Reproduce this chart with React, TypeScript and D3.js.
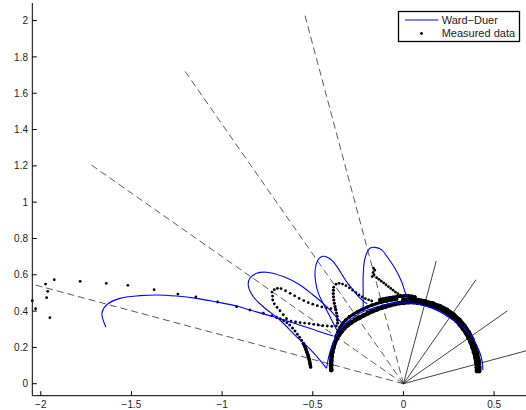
import React from 'react';
import * as d3 from 'd3';

// ---------- data ----------
const xTicks = [-2, -1.5, -1, -0.5, 0, 0.5];
const yTicks = [0, 0.2, 0.4, 0.6, 0.8, 1, 1.2, 1.4, 1.6, 1.8, 2];

// dashed rays from origin (end points)
const dashedRays: number[][] = [[-0.543, 2.028], [-1.204, 1.72], [-1.72, 1.204], [-2.028, 0.543]];
// solid rays from origin (end points)
const solidRays: number[][] = [[0.181, 0.676], [0.401, 0.573], [0.573, 0.401], [0.676, 0.181]];

// Ward-Duer model curves
const wardA: number[][] = [[-1.641, 0.311], [-1.663, 0.388], [-1.637, 0.434], [-1.564, 0.47], [-1.453, 0.485], [-1.361, 0.489], [-1.251, 0.483], [-1.141, 0.47], [-1.03, 0.45], [-0.92, 0.428], [-0.846, 0.406], [-0.718, 0.369], [-0.589, 0.329], [-0.479, 0.292], [-0.387, 0.263]];
const wardArc: number[][] = [[0.438, 0.075], [0.436, 0.11], [0.428, 0.15], [0.414, 0.19], [0.394, 0.23], [0.367, 0.268], [0.333, 0.305], [0.293, 0.338], [0.248, 0.367], [0.2, 0.396], [0.15, 0.418], [0.1, 0.434], [0.05, 0.443], [0.0, 0.446], [-0.05, 0.444], [-0.1, 0.436], [-0.15, 0.422], [-0.2, 0.405], [-0.25, 0.383], [-0.29, 0.355], [-0.325, 0.325], [-0.35, 0.296], [-0.372, 0.26], [-0.39, 0.22], [-0.405, 0.175], [-0.416, 0.13], [-0.424, 0.085]];
const wardB: number[][] = [[-0.424, 0.085], [-0.461, 0.13], [-0.515, 0.19], [-0.589, 0.258], [-0.681, 0.351], [-0.773, 0.424], [-0.828, 0.479], [-0.856, 0.544], [-0.847, 0.581], [-0.81, 0.608], [-0.755, 0.614], [-0.663, 0.59], [-0.571, 0.544], [-0.5, 0.49], [-0.44, 0.44], [-0.39, 0.39], [-0.355, 0.35], [-0.33, 0.325]];
const wardC: number[][] = [[-0.368, 0.296], [-0.387, 0.333], [-0.405, 0.369], [-0.424, 0.406], [-0.447, 0.45], [-0.47, 0.5], [-0.484, 0.56], [-0.488, 0.61], [-0.482, 0.655], [-0.465, 0.69], [-0.445, 0.702], [-0.42, 0.697], [-0.39, 0.675], [-0.36, 0.635], [-0.332, 0.59], [-0.305, 0.55], [-0.277, 0.516], [-0.25, 0.482], [-0.225, 0.458], [-0.2, 0.44]];
const wardD: number[][] = [[-0.222, 0.4], [-0.222, 0.5], [-0.222, 0.598], [-0.212, 0.691], [-0.185, 0.746], [-0.157, 0.751], [-0.12, 0.737], [-0.084, 0.691], [-0.047, 0.636], [-0.01, 0.562], [0.008, 0.507], [0.03, 0.452]];

// Measured data
const measFar: number[][] = [[-2.047, 0.457], [-2.029, 0.413], [-1.974, 0.549], [-1.962, 0.509], [-1.968, 0.474], [-1.926, 0.573], [-1.95, 0.364], [-1.783, 0.564], [-1.639, 0.553], [-1.52, 0.542], [-1.375, 0.518], [-1.244, 0.494], [-1.145, 0.478], [-1.025, 0.45], [-0.92, 0.424], [-0.847, 0.406], [-0.773, 0.388], [-0.725, 0.375]];
const measDescentUpper: number[][] = [[-0.7, 0.366], [-0.68, 0.358], [-0.66, 0.348], [-0.643, 0.337], [-0.627, 0.323], [-0.612, 0.307], [-0.598, 0.29], [-0.585, 0.273], [-0.573, 0.256], [-0.562, 0.239]];
const measDescentLower: number[][] = [[-0.552, 0.221], [-0.543, 0.204], [-0.538, 0.19], [-0.533, 0.176], [-0.528, 0.162], [-0.524, 0.148], [-0.52, 0.134], [-0.517, 0.12], [-0.514, 0.106], [-0.512, 0.092]];
const measLoopBUpper: number[][] = [[-0.725, 0.505], [-0.712, 0.518], [-0.695, 0.525], [-0.675, 0.524], [-0.65, 0.512], [-0.625, 0.498], [-0.6, 0.484], [-0.575, 0.47], [-0.55, 0.458], [-0.525, 0.447], [-0.5, 0.438], [-0.475, 0.43], [-0.45, 0.423], [-0.425, 0.418], [-0.4, 0.414], [-0.375, 0.412]];
const measLoopBLower: number[][] = [[-0.722, 0.483], [-0.721, 0.461], [-0.712, 0.44], [-0.697, 0.42], [-0.681, 0.402], [-0.663, 0.38], [-0.645, 0.358], [-0.62, 0.345], [-0.595, 0.34], [-0.57, 0.337], [-0.545, 0.334], [-0.52, 0.331], [-0.495, 0.327], [-0.47, 0.323], [-0.445, 0.32], [-0.42, 0.318], [-0.395, 0.316], [-0.37, 0.318]];
const measLoopCUpper: number[][] = [[-0.385, 0.532], [-0.372, 0.548], [-0.355, 0.553], [-0.336, 0.549], [-0.317, 0.54], [-0.298, 0.528], [-0.28, 0.515], [-0.262, 0.502], [-0.245, 0.489], [-0.228, 0.478], [-0.21, 0.469], [-0.192, 0.462], [-0.175, 0.456]];
const measLoopCLeft: number[][] = [[-0.386, 0.515], [-0.387, 0.497], [-0.386, 0.479], [-0.384, 0.461], [-0.381, 0.443], [-0.377, 0.425], [-0.373, 0.407], [-0.369, 0.389], [-0.366, 0.371], [-0.364, 0.353], [-0.363, 0.335]];
const measLoopD: number[][] = [[-0.165, 0.636], [-0.158, 0.625], [-0.168, 0.612], [-0.162, 0.6], [-0.172, 0.59], [-0.148, 0.584], [-0.135, 0.575], [-0.122, 0.565], [-0.109, 0.555], [-0.096, 0.545], [-0.083, 0.535], [-0.07, 0.525], [-0.057, 0.515], [-0.044, 0.505], [-0.031, 0.496], [-0.018, 0.487], [-0.005, 0.479]];
const measTop: number[][] = [[-0.13, 0.462], [-0.112, 0.466], [-0.094, 0.47], [-0.076, 0.473], [-0.058, 0.476], [-0.035, 0.48], [-0.017, 0.482], [0.01, 0.485], [0.028, 0.484], [0.046, 0.481], [0.064, 0.477]];
const measArc: number[][] = [[-0.398, 0.075], [-0.399, 0.1], [-0.398, 0.125], [-0.396, 0.15], [-0.392, 0.175], [-0.386, 0.2], [-0.378, 0.225], [-0.368, 0.248], [-0.356, 0.268], [-0.342, 0.287], [-0.326, 0.305], [-0.308, 0.322], [-0.288, 0.337], [-0.266, 0.351], [-0.243, 0.364], [-0.22, 0.376], [-0.196, 0.388], [-0.172, 0.399], [-0.147, 0.409], [-0.122, 0.418], [-0.097, 0.426], [-0.072, 0.433], [-0.047, 0.439], [-0.022, 0.444], [0.003, 0.447], [0.028, 0.449], [0.053, 0.449], [0.078, 0.447], [0.103, 0.443], [0.128, 0.438], [0.153, 0.431], [0.178, 0.422], [0.203, 0.411], [0.227, 0.398], [0.25, 0.383], [0.272, 0.366], [0.292, 0.347], [0.311, 0.326], [0.329, 0.303], [0.345, 0.279], [0.359, 0.254], [0.371, 0.228], [0.381, 0.201], [0.39, 0.173], [0.397, 0.145], [0.402, 0.117], [0.405, 0.09], [0.406, 0.07]];
const measArcOuter: number[][] = [[0.0, 0.462], [0.04, 0.463], [0.08, 0.46], [0.12, 0.453], [0.16, 0.442], [0.2, 0.427], [0.24, 0.406], [0.276, 0.381], [0.308, 0.352], [0.336, 0.319], [0.36, 0.283], [0.379, 0.246], [0.394, 0.207], [0.406, 0.168], [0.414, 0.128], [0.418, 0.09], [0.418, 0.07]];
const measArcUpperLeft: number[][] = [[-0.372, 0.26], [-0.362, 0.285], [-0.35, 0.31], [-0.335, 0.332], [-0.318, 0.351], [-0.298, 0.368], [-0.276, 0.383], [-0.252, 0.397], [-0.227, 0.41], [-0.2, 0.422], [-0.173, 0.433], [-0.146, 0.442], [-0.119, 0.45], [-0.092, 0.456], [-0.065, 0.461], [-0.038, 0.465]];

const legendLabels = ['Ward\u2212Duer', 'Measured data'];

const W = 526;
const H = 410;
const FONT = '"Liberation Sans", Arial, Helvetica, sans-serif';

const fmt = (v: number) => String(v).replace('-', '\u2212');

export default function App() {
  const x = d3.scaleLinear().domain([-2.047, 0.676]).range([32.3, 526]);
  const y = d3.scaleLinear().domain([-0.066, 2.097]).range([395.7, 3]);
  const line = d3
    .line<number[]>()
    .x((d) => x(d[0]))
    .y((d) => y(d[1]))
    .curve(d3.curveCatmullRom.alpha(0.5));

  const x0 = x.range()[0];
  const yb = y.range()[0];
  const yt = y.range()[1];

  // r: dot radius, band: width of a dense band under the dots (0 = none)
  const dotTraces: { pts: number[][]; r: number; band: number }[] = [
    { pts: measFar, r: 1.4, band: 0 },
    { pts: measDescentUpper, r: 1.5, band: 0 },
    { pts: measDescentLower, r: 1.8, band: 3.2 },
    { pts: measLoopBUpper, r: 1.4, band: 0 },
    { pts: measLoopBLower, r: 1.4, band: 0 },
    { pts: measLoopCUpper, r: 1.4, band: 0 },
    { pts: measLoopCLeft, r: 1.6, band: 0 },
    { pts: measLoopD, r: 1.4, band: 0 },
    { pts: measTop, r: 1.9, band: 3.2 },
    { pts: measArc, r: 2.4, band: 4.2 },
    { pts: measArcOuter, r: 2.4, band: 4.2 },
    { pts: measArcUpperLeft, r: 1.8, band: 3 },
  ];

  const blue = [wardA, wardArc, wardB, wardC, wardD];

  return (
    <svg
      width={W}
      height={H}
      style={{ position: 'absolute', left: 0, top: 0, background: '#fff' }}
      fontFamily={FONT}
    >
      <rect x={0} y={0} width={W} height={H} fill="#fff" />
      {/* rays */}
      {dashedRays.map((p, i) => (
        <line
          key={'d' + i}
          x1={x(0)}
          y1={y(0)}
          x2={x(p[0])}
          y2={y(p[1])}
          stroke="#222"
          strokeWidth={0.75}
          strokeDasharray="7,4"
        />
      ))}
      {solidRays.map((p, i) => (
        <line key={'s' + i} x1={x(0)} y1={y(0)} x2={x(p[0])} y2={y(p[1])} stroke="#111" strokeWidth={0.8} />
      ))}
      {/* measured dots */}
      {dotTraces.map((t, i) => (
        <g key={'m' + i}>
          {t.band > 0 && (
            <path
              d={line(t.pts) || ''}
              fill="none"
              stroke="#000"
              strokeWidth={t.band}
              strokeLinecap="round"
              strokeLinejoin="round"
            />
          )}
          {t.pts.map((p, j) => (
            <circle key={j} cx={x(p[0])} cy={y(p[1])} r={t.r} fill="#000" />
          ))}
        </g>
      ))}
      {/* Ward-Duer curves */}
      {blue.map((pts, i) => (
        <path key={'b' + i} d={line(pts) || ''} fill="none" stroke="#0000ff" strokeWidth={1.1} />
      ))}
      {/* axes */}
      <line x1={x0} y1={yt} x2={x0} y2={yb} stroke="#000" strokeWidth={1} />
      <line x1={x0} y1={yb} x2={W} y2={yb} stroke="#000" strokeWidth={1} />
      {yTicks.map((v) => (
        <g key={'yt' + v}>
          <line x1={x0} x2={x0 + 4.5} y1={y(v)} y2={y(v)} stroke="#000" strokeWidth={1} />
          <text x={28} y={y(v) + 3.6} fontSize={10} textAnchor="end" fill="#222">
            {fmt(v)}
          </text>
        </g>
      ))}
      {xTicks.map((v) => (
        <g key={'xt' + v}>
          <line x1={x(v)} x2={x(v)} y1={yb} y2={yb - 4.5} stroke="#000" strokeWidth={1} />
          <text x={x(v)} y={408} fontSize={10} textAnchor="middle" fill="#222">
            {fmt(v)}
          </text>
        </g>
      ))}
      {/* legend */}
      <g>
        <rect x={398.5} y={11.5} width={121} height={30} fill="#fff" stroke="#000" strokeWidth={1.3} />
        <line x1={405} x2={438.3} y1={20} y2={20} stroke="#0000ff" strokeWidth={1.2} />
        <circle cx={421.5} cy={33.5} r={1.4} fill="#000" />
        <text x={441.7} y={23.5} fontSize={11} fill="#222">
          {legendLabels[0]}
        </text>
        <text x={441.7} y={37} fontSize={11} fill="#222">
          {legendLabels[1]}
        </text>
      </g>
    </svg>
  );
}
